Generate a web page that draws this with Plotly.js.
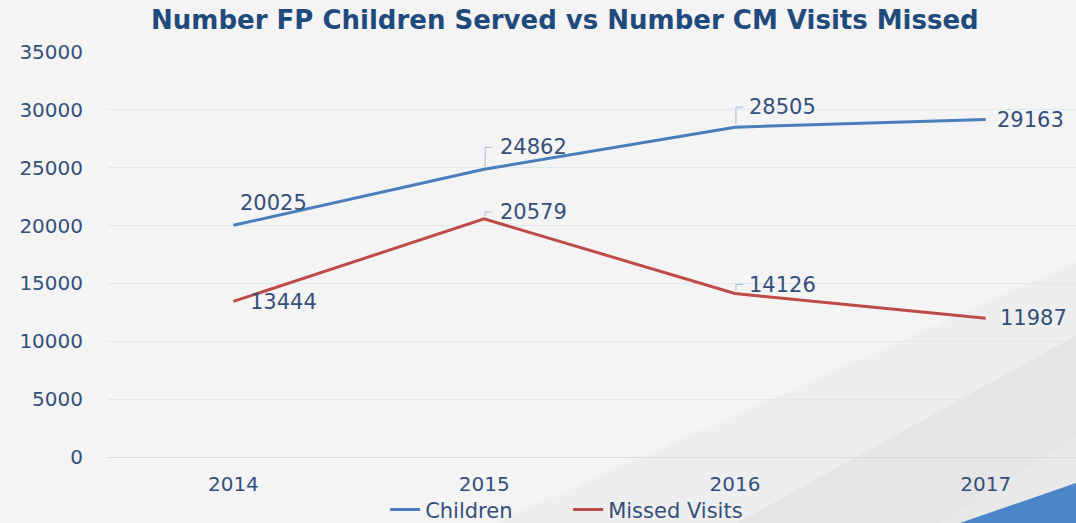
<!DOCTYPE html>
<html>
<head>
<meta charset="utf-8">
<script src="https://cdn.plot.ly/plotly-3.0.1.min.js"></script>
<style>html,body{margin:0;padding:0;background:#f3f3f3;}#chart{width:1076px;height:523px;}</style>
</head>
<body>
<div id="chart"></div>
<script>
const years = ['2014', '2015', '2016', '2017'];
const children = [20025, 24862, 28505, 29163];
const missedVisits = [13444, 20579, 14126, 11987];
const yTicks = [0, 5000, 10000, 15000, 20000, 25000, 30000, 35000];

const FONT = 'DejaVu Sans, Liberation Sans, Arial, sans-serif';
const TXT = '#34507a';

// label offsets (pixels) per point: [xshift, yshift, leader]
const childOff = [[5, 22, false], [14, 22, true], [12, 20, true], [9, 0, false]];
const missOff = [[15, -1, false], [14, 7, true], [12, 9, true], [12, 0, false]];

function makeAnn(vals, offs) {
  return vals.map((v, i) => ({
    x: i, y: v, xref: 'x', yref: 'y',
    text: String(v), font: {family: FONT, size: 21, color: TXT},
    xanchor: 'left', yanchor: 'middle', showarrow: false,
    xshift: offs[i][0], yshift: offs[i][1]
  }));
}
function makeLeaders(vals, offs) {
  const out = [];
  vals.forEach((v, i) => {
    const o = offs[i];
    if (!o[2]) return;
    out.push({type: 'path', xref: 'x', yref: 'y', xsizemode: 'pixel', ysizemode: 'pixel',
      xanchor: i, yanchor: v, line: {color: '#aebbd0', width: 1},
      path: 'M 1,3 L 1,' + o[1] + ' L 8,' + o[1]});
  });
  return out;
}

const traces = [
  {x: years, y: children, name: 'Children', type: 'scatter', mode: 'lines',
   line: {color: '#4a7ebb', width: 3}},
  {x: years, y: missedVisits, name: 'Missed Visits', type: 'scatter', mode: 'lines',
   line: {color: '#be4b48', width: 3}}
];

const bgShapes = [
  {type: 'path', xref: 'paper', yref: 'paper', layer: 'below', line: {width: 0},
   fillcolor: '#eeeeee', path: 'M 0.40,-0.163 L 1,0.48 L 1,-0.163 Z'},
  {type: 'path', xref: 'paper', yref: 'paper', layer: 'below', line: {width: 0},
   fillcolor: '#e6e6e6', path: 'M 0.65,-0.163 L 1,0.30 L 1,-0.163 Z'},
  {type: 'path', xref: 'paper', yref: 'paper', layer: 'below', line: {width: 0},
   fillcolor: '#e9e9e9', path: 'M 0.86,-0.163 L 1,0.05 L 1,-0.163 Z'},
  {type: 'path', xref: 'paper', yref: 'paper', layer: 'below', line: {width: 0},
   fillcolor: '#4a86c8', path: 'M 0.880,-0.163 L 1,-0.064 L 1,-0.163 Z'}
];

const layout = {
  width: 1076, height: 523,
  margin: {l: 108, r: 0, t: 52, b: 66},
  paper_bgcolor: '#f4f4f4', plot_bgcolor: 'rgba(0,0,0,0)',
  title: {text: '<b>Number FP Children Served vs Number CM Visits Missed</b>',
    font: {family: FONT, size: 26, color: '#1f4a7c'},
    x: 0.525, xref: 'container', xanchor: 'center', y: 0.962, yanchor: 'middle'},
  xaxis: {type: 'category', range: [-0.5, 3.36], showgrid: false, zeroline: false,
    automargin: false,
    ticks: 'outside', ticklen: 9, tickcolor: 'rgba(0,0,0,0)',
    tickfont: {family: FONT, size: 20, color: TXT}, fixedrange: true},
  yaxis: {range: [0, 35000], tickvals: yTicks, ticktext: yTicks.map(String),
    automargin: false,
    showgrid: true, gridcolor: '#dfe7f2', gridwidth: 1, zeroline: true, zerolinecolor: '#d3dce8',
    ticks: 'outside', ticklen: 20, tickcolor: 'rgba(0,0,0,0)',
    tickfont: {family: FONT, size: 20, color: TXT}, fixedrange: true},
  showlegend: true,
  legend: {orientation: 'h', x: 0.528, xref: 'container', xanchor: 'center',
    y: 0.025, yref: 'container', yanchor: 'middle', entrywidth: 138, entrywidthmode: 'pixels',
    font: {family: FONT, size: 21, color: TXT}, bgcolor: 'rgba(0,0,0,0)', itemwidth: 30},
  annotations: makeAnn(children, childOff).concat(makeAnn(missedVisits, missOff)),
  shapes: bgShapes.concat(makeLeaders(children, childOff), makeLeaders(missedVisits, missOff))
};

Plotly.newPlot('chart', traces, layout, {displayModeBar: false, staticPlot: true});
</script>
</body>
</html>
